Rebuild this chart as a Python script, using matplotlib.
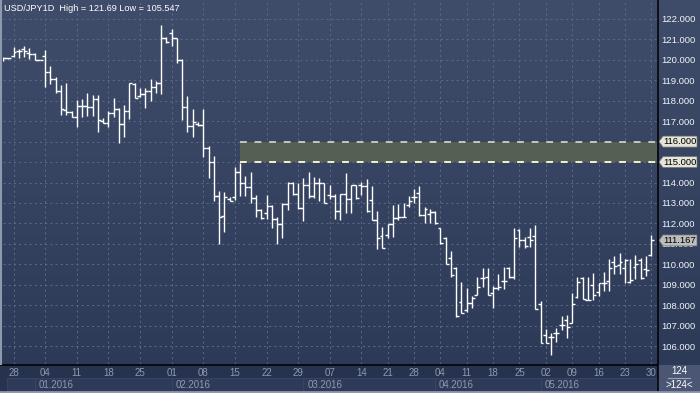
import matplotlib

matplotlib.use("Agg")
import matplotlib.pyplot as plt
import numpy as np
from matplotlib.patches import Polygon, Rectangle
from matplotlib.transforms import blended_transform_factory

plt.rcParams["font.family"] = ["Liberation Sans", "DejaVu Sans"]

# USD/JPY daily bars, 28.12.2015 .. 30.05.2016 (124 bars incl. sunday bars)
opens = [120.00, 120.07, 120.19, 120.43, 120.51, 120.32, 120.27, 119.99, 120.19, 119.42,
         119.05, 118.49, 117.55, 117.46, 117.19, 117.74, 117.74, 117.68, 118.07, 117.02,
         116.89, 117.38, 117.58, 116.85, 117.51, 118.80, 118.23, 118.33, 118.49, 118.65,
         118.88, 121.05, 121.33, 121.05, 119.99, 117.71, 116.76, 116.86, 116.80, 115.67,
         115.02, 113.34, 112.36, 113.18, 113.31, 114.53, 113.99, 113.80, 113.23, 112.66,
         112.52, 112.85, 112.20, 111.97, 112.95, 113.99, 113.44, 112.74, 113.88, 113.34,
         113.96, 113.96, 113.39, 113.34, 112.62, 113.44, 113.18, 113.88, 113.88, 113.83,
         113.14, 112.17, 111.38, 111.43, 111.97, 112.25, 112.33, 112.90, 113.27, 113.50,
         112.41, 112.46, 112.55, 111.76, 111.27, 110.29, 109.80, 108.17, 107.75, 108.09,
         108.50, 109.31, 109.40, 108.58, 108.82, 109.20, 109.80, 109.40, 111.68, 111.19,
         111.35, 111.38, 108.06, 106.54, 106.46, 106.62, 107.03, 107.28, 107.15, 108.40,
         109.35, 108.25, 108.99, 108.66, 109.07, 109.20, 110.13, 109.97, 109.80, 109.15,
         109.88, 110.21, 109.75, 110.46]
highs = [120.15, 120.08, 120.61, 120.51, 120.67, 120.56, 120.32, 120.00, 120.48, 119.70,
         119.14, 118.77, 118.88, 117.51, 118.03, 118.08, 118.39, 118.28, 118.28, 117.14,
         117.51, 118.12, 117.63, 117.79, 118.88, 118.85, 118.60, 118.60, 119.05, 118.98,
         121.69, 121.10, 121.49, 121.08, 120.02, 118.23, 117.58, 116.97, 117.58, 115.78,
         115.30, 113.60, 113.55, 113.27, 114.77, 114.94, 114.32, 114.53, 113.39, 112.69,
         113.39, 112.88, 112.30, 112.98, 114.04, 114.01, 113.99, 114.20, 114.53, 114.29,
         114.20, 113.99, 113.88, 113.44, 113.44, 114.45, 113.88, 113.90, 114.04, 114.15,
         113.83, 112.62, 111.81, 111.97, 112.90, 112.95, 113.01, 113.34, 113.67, 113.83,
         112.79, 112.69, 112.60, 111.78, 111.32, 110.67, 109.88, 109.15, 108.82, 108.45,
         109.40, 109.80, 109.80, 108.94, 109.51, 109.85, 109.88, 111.76, 111.71, 111.32,
         111.76, 111.92, 108.22, 106.82, 106.66, 106.87, 107.47, 107.52, 108.58, 109.36,
         109.40, 109.40, 109.56, 109.10, 109.64, 110.24, 110.41, 110.57, 110.24, 110.24,
         110.46, 110.29, 110.41, 111.43]
lows = [119.95, 120.06, 120.12, 120.07, 120.15, 120.02, 119.99, 119.98, 118.69, 118.82,
        118.39, 117.30, 117.30, 117.19, 116.70, 117.19, 117.25, 117.27, 116.49, 116.93,
        116.70, 117.19, 115.95, 116.21, 117.09, 118.12, 118.16, 117.63, 118.00, 118.39,
        118.33, 120.84, 120.67, 119.83, 117.06, 116.49, 116.24, 116.76, 115.23, 114.20,
        113.11, 110.99, 111.60, 113.09, 113.14, 113.34, 113.34, 112.98, 112.30, 112.23,
        112.20, 111.76, 110.99, 111.27, 112.66, 113.39, 112.69, 112.13, 113.23, 113.23,
        113.11, 112.98, 113.18, 112.20, 112.17, 112.52, 112.52, 113.18, 113.39, 112.57,
        112.17, 110.73, 110.78, 111.27, 111.35, 112.17, 112.30, 112.79, 113.01, 112.36,
        112.00, 112.00, 111.95, 110.99, 110.00, 109.40, 107.44, 107.63, 107.68, 107.85,
        108.50, 108.91, 108.50, 107.85, 108.74, 108.78, 109.31, 109.26, 110.83, 110.78,
        110.83, 107.80, 106.14, 106.14, 105.547, 106.22, 106.79, 106.41, 107.15, 108.34,
        108.29, 108.25, 108.25, 108.45, 108.71, 108.71, 109.53, 109.53, 109.10, 109.10,
        109.26, 109.26, 109.43, 110.41]
closes = [120.07, 120.07, 120.40, 120.43, 120.43, 120.27, 119.99, 119.99, 119.42, 119.05,
          118.49, 117.58, 117.46, 117.19, 117.74, 117.74, 117.68, 118.07, 117.06, 116.93,
          117.38, 117.58, 116.85, 117.51, 118.85, 118.12, 118.33, 118.49, 118.65, 118.88,
          121.05, 120.89, 121.05, 119.99, 117.71, 116.76, 116.94, 116.80, 115.67, 115.02,
          113.34, 112.33, 113.27, 113.09, 114.53, 113.99, 113.80, 113.23, 112.66, 112.25,
          112.85, 112.20, 111.97, 112.95, 113.99, 113.44, 112.74, 113.88, 113.34, 113.96,
          113.96, 112.98, 113.34, 112.62, 113.44, 113.18, 113.88, 113.23, 113.83, 112.62,
          112.17, 111.27, 110.78, 111.97, 112.25, 112.33, 112.33, 113.11, 113.27, 112.41,
          112.69, 112.57, 112.00, 111.02, 110.02, 109.48, 107.47, 107.63, 108.09, 108.34,
          108.91, 109.31, 108.50, 108.82, 108.88, 109.20, 109.40, 111.27, 111.19, 110.89,
          111.19, 107.80, 106.17, 106.17, 106.43, 106.66, 107.03, 106.95, 108.04, 109.15,
          108.29, 108.27, 108.50, 109.07, 109.10, 109.80, 109.92, 110.13, 110.21, 109.23,
          110.01, 109.31, 109.72, 111.167]

day_ticks = [2, 8, 14, 20, 26, 32, 38, 44, 50, 56, 62, 68, 73, 78, 83, 88, 93, 98,
             103, 108, 113, 118, 123]
day_labels = ["28", "04", "11", "18", "25", "01", "08", "15", "22", "29", "07", "14",
              "21", "28", "04", "11", "18", "25", "02", "09", "16", "23", "30"]
month_starts = [0.8, 6, 32, 57, 82, 102]
month_labels = ["", "01.2016", "02.2016", "03.2016", "04.2016", "05.2016"]
price_ticks = list(range(106, 123))
zone_low, zone_high = 115.0, 116.0
zone_start = 44.9
last_price = 111.167
title = "USD/JPY1D  High = 121.69 Low = 105.547"
bar_count = "124"

W, H = 700, 393
BG_TOP = np.array([63, 77, 106]) / 255
BG_BOT = np.array([43, 57, 87]) / 255
AXIS_BG = "#27334e"
MONTH_BG = "#2e3b58"
GRID = "#5a6888"
DAY_TXT = "#8d99b1"

fig = plt.figure(figsize=(W / 100, H / 100), dpi=100)

# background (pixel coordinates)
bg = fig.add_axes([0, 0, 1, 1], zorder=0)
bg.set_xlim(0, W)
bg.set_ylim(H, 0)
bg.axis("off")
grad = np.linspace(0, 1, 256)[:, None, None]
bg.imshow(BG_TOP + (BG_BOT - BG_TOP) * grad, aspect="auto",
          extent=[0, W, H, 0], origin="upper", zorder=0)
bg.add_patch(Rectangle((0, 364), 657, 29, color=AXIS_BG, zorder=1))

# price chart
ax = fig.add_axes([3 / W, 1 - 364 / H, 654 / W, 364 / H], zorder=2)
ax.patch.set_alpha(0)
ax.set_xlim(0, 654 / 5.27)
ax.set_ylim(105.125, 122.924)
ax.set_axisbelow(True)
ax.grid(True, color=GRID, linestyle=(0, (2, 3)), linewidth=0.75)
for side in ["top", "left", "right", "bottom"]:
    ax.spines[side].set_visible(False)

ax.yaxis.tick_right()
ax.set_yticks(price_ticks)
ax.set_yticklabels(["" if v in (zone_low, zone_high) else f"{v:.3f}" for v in price_ticks])
ax.tick_params(axis="y", length=0, pad=3, colors="#f2f4f8", labelsize=6.8)
ax.set_xticks(day_ticks)
ax.set_xticklabels(day_labels)
ax.tick_params(axis="x", length=0, pad=3, colors=DAY_TXT, labelsize=7)

# supply zone
ax.add_patch(Rectangle((zone_start, zone_low), 200, zone_high - zone_low,
                       facecolor="#556053", edgecolor="none", zorder=1))
ax.hlines(zone_high, zone_start, 200, color="#c4c6bc", linewidth=1.4,
          linestyle=(0, (3.5, 4)), zorder=2)
ax.hlines(zone_low, zone_start, 200, color="#f4f0d4", linewidth=1.4,
          linestyle=(0, (3.5, 4)), zorder=2)

# OHLC bars
x = np.arange(len(opens))
ax.vlines(x, lows, highs, color="white", linewidth=1.0, zorder=3)
ax.hlines(opens, x - 0.55, x, color="white", linewidth=1.0, zorder=3)
ax.hlines(closes, x, x + 0.55, color="white", linewidth=1.0, zorder=3)

# month row under the day labels
month_tr = blended_transform_factory(ax.transData, bg.transData)
bounds = month_starts + [654 / 5.27]
for left, right, label in zip(bounds[:-1], bounds[1:], month_labels):
    bg.add_patch(Rectangle((left, 378), right - left, 13, transform=month_tr,
                           facecolor=MONTH_BG, edgecolor="#38466a", linewidth=0.6, zorder=2))
    bg.text(left + 0.75, 384.5, label, transform=month_tr, color=DAY_TXT,
            fontsize=7, va="center", ha="left", zorder=3)

# overlay: frame, price boxes, title
fr = fig.add_axes([0, 0, 1, 1], zorder=4)
fr.set_xlim(0, W)
fr.set_ylim(H, 0)
fr.axis("off")
fr.patch.set_alpha(0)
fr.plot([0, 657], [364.5, 364.5], color="black", linewidth=1.1)
fr.plot([657.5, 657.5], [0, 393], color="black", linewidth=1.1)
fr.add_patch(Rectangle((658, 365), 42, 26, facecolor="#4a5673", edgecolor="none"))
fr.text(679, 371.5, bar_count, color="white", fontsize=7, ha="center", va="center")
fr.plot([668, 690], [378, 378], color="#9aa3b6", linewidth=0.8)
fr.text(679, 385, ">" + bar_count + "<", color="white", fontsize=7, ha="center", va="center")
fr.plot([0, W], [392, 392], color="#8f99ad", linewidth=2)
fr.plot([0.8, 0.8], [0, 364], color="#8f99ad", linewidth=1.5)
fr.text(4, 8.5, title, color="white", fontsize=6.6, ha="left", va="center")

box_tr = blended_transform_factory(fr.transData, ax.transData)
half = 5.5 * (122.924 - 105.125) / 364
for price, face in [(zone_high, "#e4e4d8"), (zone_low, "#e4e4d8"), (last_price, "#bdbdbd")]:
    pts = [(659, price), (663, price + half), (697, price + half),
           (697, price - half), (663, price - half)]
    fr.add_patch(Polygon(pts, closed=True, transform=box_tr, facecolor=face,
                         edgecolor="#707070", linewidth=0.5))
    fr.text(663.5, price, f"{price:.3f}", transform=box_tr, color="black",
            fontsize=6.8, ha="left", va="center")

fig.savefig("out.png", dpi=100)
